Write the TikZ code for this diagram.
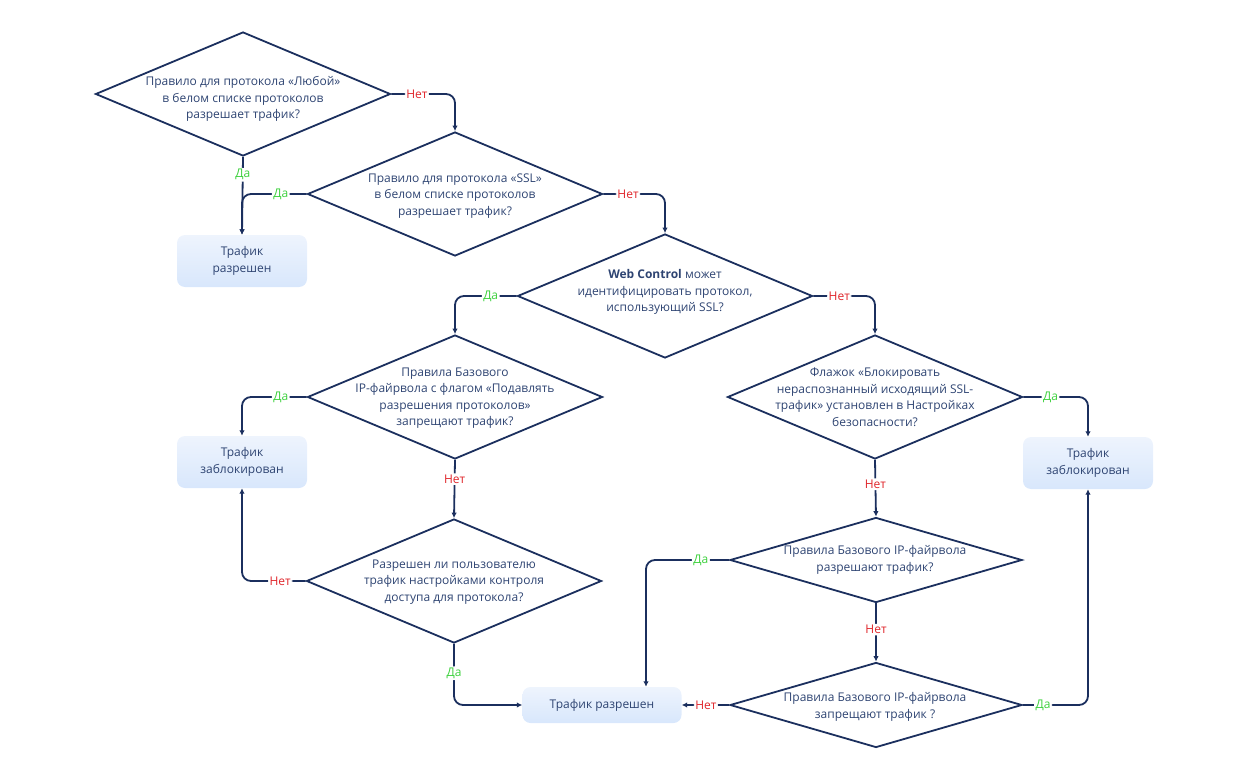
\documentclass[tikz,border=0pt]{standalone}
\usepackage{fontspec}
\setmainfont{Open Sans}
\usetikzlibrary{shapes.geometric,arrows.meta}
\definecolor{navy}{HTML}{1B2F5E}
\definecolor{qtext}{HTML}{2E4472}
\definecolor{yesgreen}{HTML}{3DD13D}
\definecolor{nored}{HTML}{E0262B}
\definecolor{boxtop}{HTML}{EEF4FD}
\definecolor{boxbottom}{HTML}{D8E7FC}
\begin{document}
\begin{tikzpicture}[x=1pt, y=-1pt, font=\fontsize{12}{16.5}\selectfont]
    \tikzstyle{decision} = [diamond, draw=navy, line width=1.8pt, minimum width=295pt, minimum height=124pt, inner sep=0pt]
    \tikzstyle{flatdecision} = [decision, minimum width=292pt, minimum height=85pt]
    \tikzstyle{question} = [text=qtext, align=center, inner sep=0pt]
    \tikzstyle{result} = [rectangle, rounded corners=8pt, minimum width=130pt, minimum height=52pt, top color=boxtop, bottom color=boxbottom, text=qtext, align=center]
    \tikzstyle{flow} = [draw=navy, line width=1.8pt, rounded corners=9pt, -{Latex[length=5.5pt,width=5.5pt]}]
    \tikzstyle{yeslabel} = [fill=white, text=yesgreen, inner sep=1.5pt]
    \tikzstyle{nolabel} = [yeslabel, text=nored]

    \useasboundingbox (0,0) rectangle (1245,781);

    % Decisions
    \node [decision] (rany) at (243,94) {};
    \node [decision] (rssl) at (455,194) {};
    \node [decision] (webctl) at (665,296) {};
    \node [decision] (suppress) at (455,397) {};
    \node [decision] (sslflag) at (875,397) {};
    \node [decision] (access) at (454,581) {};
    \node [flatdecision] (fwallow) at (876,560) {};
    \node [flatdecision] (fwdeny) at (876,705) {};

    \node [question] (rany-q) at (243,99) {Правило для протокола «Любой»\\в белом списке протоколов\\разрешает трафик?};
    \node [question] (rssl-q) at (455,196) {Правило для протокола «SSL»\\в белом списке протоколов\\разрешает трафик?};
    \node [question] (webctl-q) at (665,292) {\textbf{Web Control} может\\идентифицировать протокол,\\использующий SSL?};
    \node [question] (suppress-q) at (455,398) {Правила Базового\\IP-файрвола с флагом «Подавлять\\разрешения протоколов»\\запрещают трафик?};
    \node [question] (sslflag-q) at (875,397) {Флажок «Блокировать\\нераспознанный исходящий SSL-\\трафик» установлен в Настройках\\безопасности?};
    \node [question] (access-q) at (454,582) {Разрешен ли пользователю\\трафик настройками контроля\\доступа для протокола?};
    \node [question] (fwallow-q) at (875,560) {Правила Базового IP-файрвола\\разрешают трафик?};
    \node [question] (fwdeny-q) at (875,707) {Правила Базового IP-файрвола\\запрещают трафик ?};

    % Results
    \node [result] (allow1) at (242,261) {Трафик\\разрешен};
    \node [result] (block1) at (242,462) {Трафик\\заблокирован};
    \node [result] (block2) at (1088,463) {Трафик\\заблокирован};
    \node [result, minimum width=159pt, minimum height=36pt] (allow2) at (602,705) {Трафик разрешен};

    % Connections
    \draw [flow] (rany.east) -| node [nolabel, pos=0.2] {Нет} (rssl.north);
    \draw [flow] (rany.south) -- node [yeslabel, pos=0.23] {Да} (allow1.north);
    \draw [flow] (rssl.west) -| node [yeslabel, pos=0.2] {Да} (allow1.north);
    \draw [flow] (rssl.east) -| node [nolabel, pos=0.2] {Нет} (webctl.north);
    \draw [flow] (webctl.west) -| node [yeslabel, pos=0.21] {Да} (suppress.north);
    \draw [flow] (webctl.east) -| node [nolabel, pos=0.21] {Нет} (sslflag.north);
    \draw [flow] (suppress.west) -| node [yeslabel, pos=0.2] {Да} (block1.north);
    \draw [flow] (suppress.south) -- node [nolabel, pos=0.33] {Нет} (access.north);
    \draw [flow] (access.west) -| node [nolabel, pos=0.2] {Нет} (block1.south);
    \draw [flow] (access.south) |- node [yeslabel, pos=0.24] {Да} (allow2.west);
    \draw [flow] (sslflag.east) -| node [yeslabel, pos=0.21] {Да} (block2.north);
    \draw [flow] (sslflag.south) -- node [nolabel, pos=0.43] {Нет} (fwallow.north);
    \draw [flow] (fwallow.west) -| node [yeslabel, pos=0.17] {Да} ([xshift=44pt]allow2.north);
    \draw [flow] (fwallow.south) -- node [nolabel, pos=0.45] {Нет} (fwdeny.north);
    \draw [flow] (fwdeny.west) -- node [nolabel, pos=0.49] {Нет} (allow2.east);
    \draw [flow] (fwdeny.east) -| node [yeslabel, pos=0.155] {Да} (block2.south);
\end{tikzpicture}
\end{document}
